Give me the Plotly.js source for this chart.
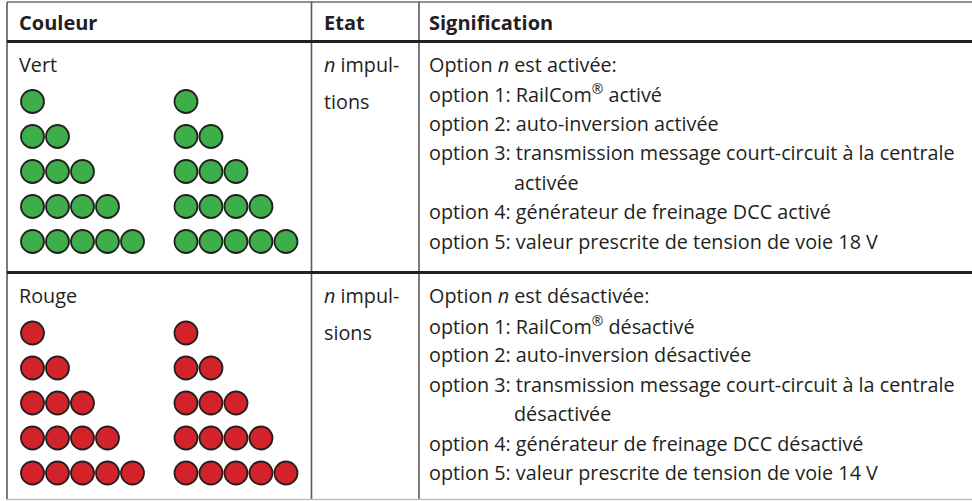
<!DOCTYPE html>
<html><head><meta charset="utf-8">
<script src="https://cdn.plot.ly/plotly-3.0.1.min.js"></script>
<style>html,body{margin:0;padding:0;background:#fff;overflow:hidden}</style>
</head><body><div id="chart" style="width:972px;height:501px"></div>
<script>
// ---- data ----
const headers = ["Couleur", "Etat", "Signification"];
const colourNames = ["Vert", "Rouge"];
const stateLines = [["<i>n</i> impul-", "tions"], ["<i>n</i> impul-", "sions"]];
const greenMeaning = [
  "Option <i>n</i> est activée:",
  "option 1: RailCom<sup>®</sup> activé",
  "option 2: auto-inversion activée",
  "option 3: transmission message court-circuit à la centrale",
  "activée",
  "option 4: générateur de freinage DCC activé",
  "option 5: valeur prescrite de tension de voie 18 V"
];
const redMeaning = [
  "Option <i>n</i> est désactivée:",
  "option 1: RailCom<sup>®</sup> désactivé",
  "option 2: auto-inversion désactivée",
  "option 3: transmission message court-circuit à la centrale",
  "désactivée",
  "option 4: générateur de freinage DCC désactivé",
  "option 5: valeur prescrite de tension de voie 14 V"
];
const continuationLine = [false, false, false, false, true, false, false];
const dotCounts = [1, 2, 3, 4, 5];      // impulses per row
const dotGroupsPerRow = 2;
const dotColours = ["#3dae49", "#d2232a"];

// ---- layout geometry (pixels) ----
const W = 972, H = 501;
const secTop = [41, 272.5];
const colX = {left: 7, c1: 311.5, c2: 419};
const textX = [18, 323, 428];
const indentX = 513;
const firstBase = 30, pitch = 29.5, etatPitch = 37, headerBase = 29;
const fs = 19.8, hfs = 20;
const fam = "'Open Sans', 'Liberation Sans', sans-serif";
const ink = "#231f20";
const groupX = [32.5, 186], dotPitch = 25, rowOff = 60.5, rowPitch = 35;

const traces = [];
[0, 1].forEach(s => {
  const xs = [], ys = [];
  for (let g = 0; g < dotGroupsPerRow; g++) {
    dotCounts.forEach((n, r) => {
      for (let k = 0; k < n; k++) {
        xs.push(groupX[g] + k * dotPitch);
        ys.push(secTop[s] + rowOff + r * rowPitch);
      }
    });
  }
  traces.push({
    type: "scatter", mode: "markers", x: xs, y: ys, hoverinfo: "skip",
    marker: {size: 23, color: dotColours[s], line: {width: 1.8, color: ink}}
  });
});

const ann = [];
function txt(x, base, text, bold) {
  const size = bold ? hfs : fs;
  ann.push({x: x, y: base - 0.33 * size, xref: "x", yref: "y", text: bold ? "<b>" + text + "</b>" : text,
    showarrow: false, xanchor: "left", yanchor: "middle", borderpad: 0,
    font: {family: fam, size: size, color: ink}});
}
headers.forEach((h, i) => txt(textX[i], headerBase, h, true));
[greenMeaning, redMeaning].forEach((lines, s) => {
  const top = secTop[s];
  txt(textX[0], top + firstBase, colourNames[s]);
  stateLines[s].forEach((t, i) => txt(textX[1], top + firstBase + i * etatPitch, t));
  lines.forEach((t, i) => txt(continuationLine[i] ? indentX : textX[2], top + firstBase + i * pitch, t));
});

function ln(x0, y0, x1, y1, color, width) {
  return {type: "line", xref: "x", yref: "y", x0: x0, y0: y0, x1: x1, y1: y1, line: {color: color, width: width}};
}
const shapes = [
  ln(colX.left, 2, W, 2, "#6d6e71", 1.6),
  ln(colX.left, 2, colX.left, 499.5, "#58595b", 1.6),
  ln(colX.c1, 2, colX.c1, 499.5, "#58595b", 1.6),
  ln(colX.c2, 2, colX.c2, 499.5, "#58595b", 1.6),
  ln(colX.left, 41.5, W, 41.5, "#231f20", 3),
  ln(colX.left, 272.5, W, 272.5, "#231f20", 3),
  ln(colX.left, 499.5, W, 499.5, "#bcbec0", 1.6)
];

const layout = {
  width: W, height: H, margin: {l: 0, r: 0, t: 0, b: 0},
  paper_bgcolor: "#ffffff", plot_bgcolor: "#ffffff", showlegend: false,
  xaxis: {range: [0, W], visible: false, fixedrange: true},
  yaxis: {range: [H, 0], visible: false, fixedrange: true},
  annotations: ann, shapes: shapes
};
Plotly.newPlot("chart", traces, layout, {staticPlot: true, displayModeBar: false});
</script></body></html>
